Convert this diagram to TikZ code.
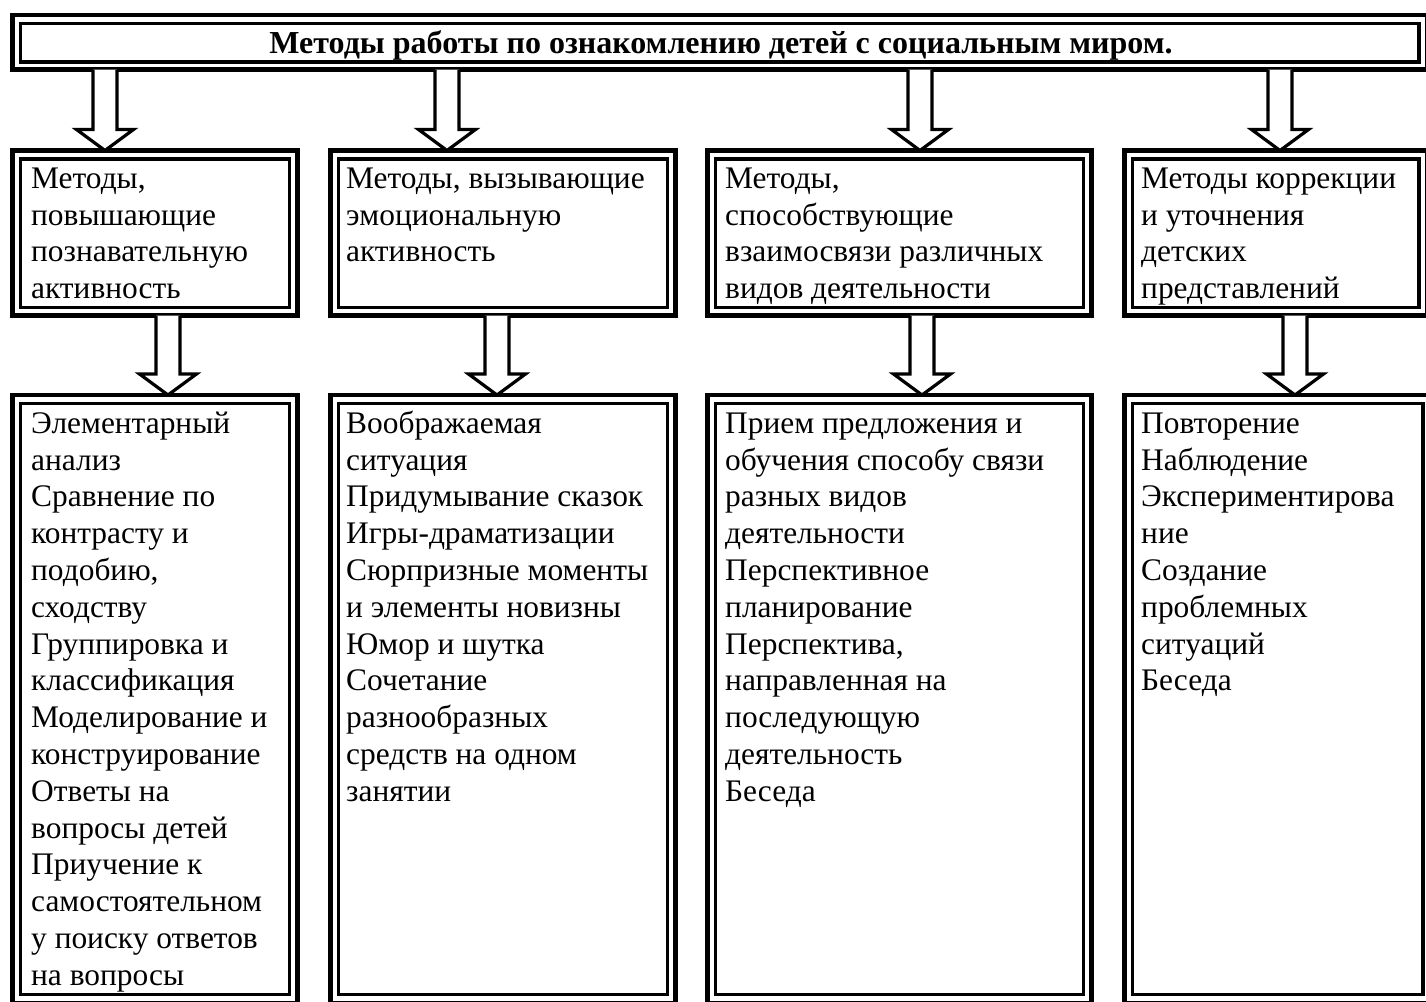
\documentclass[tikz,border=0pt]{standalone}
\usepackage{fontspec}
\setmainfont{Liberation Serif}
\usetikzlibrary{calc}
\tikzset{
  obox/.style={draw, line width=4.5pt, rectangle, inner sep=0pt, outer sep=0pt, anchor=north west},
  ibox/.style={draw, line width=3.5pt},
  barrow/.style={draw, line width=3.2pt, fill=white, line join=miter},
  txt/.style={inner sep=0pt, anchor=north west, align=left, font=\fontsize{31.4}{36.8}\selectfont},
  ttl/.style={inner sep=0pt, anchor=base, font=\bfseries\fontsize{32}{38}\selectfont}
}
% block arrow from node #1 (south) to node #2 (north) at x = #3
\newcommand\blockarrow[3]{%
  \draw[barrow] let \p1=(#1.south), \p2=(#2.north) in
    ({#3pt-12pt},\y1) -- ({#3pt-12pt},{\y2+21pt}) -- ({#3pt-28.5pt},{\y2+21pt})
    -- ({#3pt},\y2) -- ({#3pt+28.5pt},{\y2+21pt}) -- ({#3pt+12pt},{\y2+21pt})
    -- ({#3pt+12pt},\y1);}
\newcommand\innerbox[2]{%
  \draw[ibox] ($(#1.north west)+(8,8.5)$) rectangle ($(#1.south east)+(-8,-#2)$);}
\begin{document}
\begin{tikzpicture}[x=1pt,y=-1pt]
\useasboundingbox (0,0) rectangle (1426,1001);
\clip (0,0) rectangle (1426,1001);

% boxes (outer lines)
\node[obox, minimum width=1414.5pt, minimum height=54.5pt] (top) at (12.5,15) {};
\node[obox, minimum width=285pt, minimum height=165pt] (b1) at (12.5,150.5) {};
\node[obox, minimum width=345pt, minimum height=165pt] (b2) at (330.5,150.5) {};
\node[obox, minimum width=384pt, minimum height=165pt] (b3) at (707.5,150.5) {};
\node[obox, minimum width=302.5pt, minimum height=165pt] (b4) at (1124.5,150.5) {};
\node[obox, minimum width=285pt, minimum height=608pt] (c1) at (12.5,395) {};
\node[obox, minimum width=345pt, minimum height=608pt] (c2) at (330.5,395) {};
\node[obox, minimum width=384pt, minimum height=608pt] (c3) at (707.5,395) {};
\node[obox, minimum width=306.5pt, minimum height=608pt] (c4) at (1124.5,395) {};

% inner lines
\innerbox{top}{7.5}
\innerbox{b1}{8}\innerbox{b2}{8}\innerbox{b3}{8}\innerbox{b4}{8}
\innerbox{c1}{8.5}\innerbox{c2}{8.5}\innerbox{c3}{8.5}\innerbox{c4}{8.5}

% block arrows
\blockarrow{top}{b1}{105}
\blockarrow{top}{b2}{447}
\blockarrow{top}{b3}{920}
\blockarrow{top}{b4}{1280}
\blockarrow{b1}{c1}{168}
\blockarrow{b2}{c2}{497}
\blockarrow{b3}{c3}{922}
\blockarrow{b4}{c4}{1295}

% texts
\node[ttl] (title) at (721,53) {Методы работы по ознакомлению детей с социальным миром.};

\node[txt] (tb1) at (31,162.24) {\strut Методы,\\повышающие\\познавательную\\активность};
\node[txt] (tb2) at (346,162.24) {\strut Методы, вызывающие\\эмоциональную\\активность};
\node[txt] (tb3) at (725,162.24) {\strut Методы,\\способствующие\\взаимосвязи различных\\видов деятельности};
\node[txt] (tb4) at (1141,162.24) {\strut Методы коррекции\\и уточнения\\детских\\представлений};

\node[txt] (tc1) at (31,407.24) {\strut Элементарный\\анализ\\Сравнение по\\контрасту и\\подобию,\\сходству\\Группировка и\\классификация\\Моделирование и\\конструирование\\Ответы на\\вопросы детей\\Приучение к\\самостоятельном\\у поиску ответов\\на вопросы};
\node[txt] (tc2) at (346,407.24) {\strut Воображаемая\\ситуация\\Придумывание сказок\\Игры-драматизации\\Сюрпризные моменты\\и элементы новизны\\Юмор и шутка\\Сочетание\\разнообразных\\средств на одном\\занятии};
\node[txt] (tc3) at (725,407.24) {\strut Прием предложения и\\обучения способу связи\\разных видов\\деятельности\\Перспективное\\планирование\\Перспектива,\\направленная на\\последующую\\деятельность\\Беседа};
\node[txt] (tc4) at (1141,407.24) {\strut Повторение\\Наблюдение\\Экспериментирова\\ние\\Создание\\проблемных\\ситуаций\\Беседа};
\end{tikzpicture}
\end{document}
